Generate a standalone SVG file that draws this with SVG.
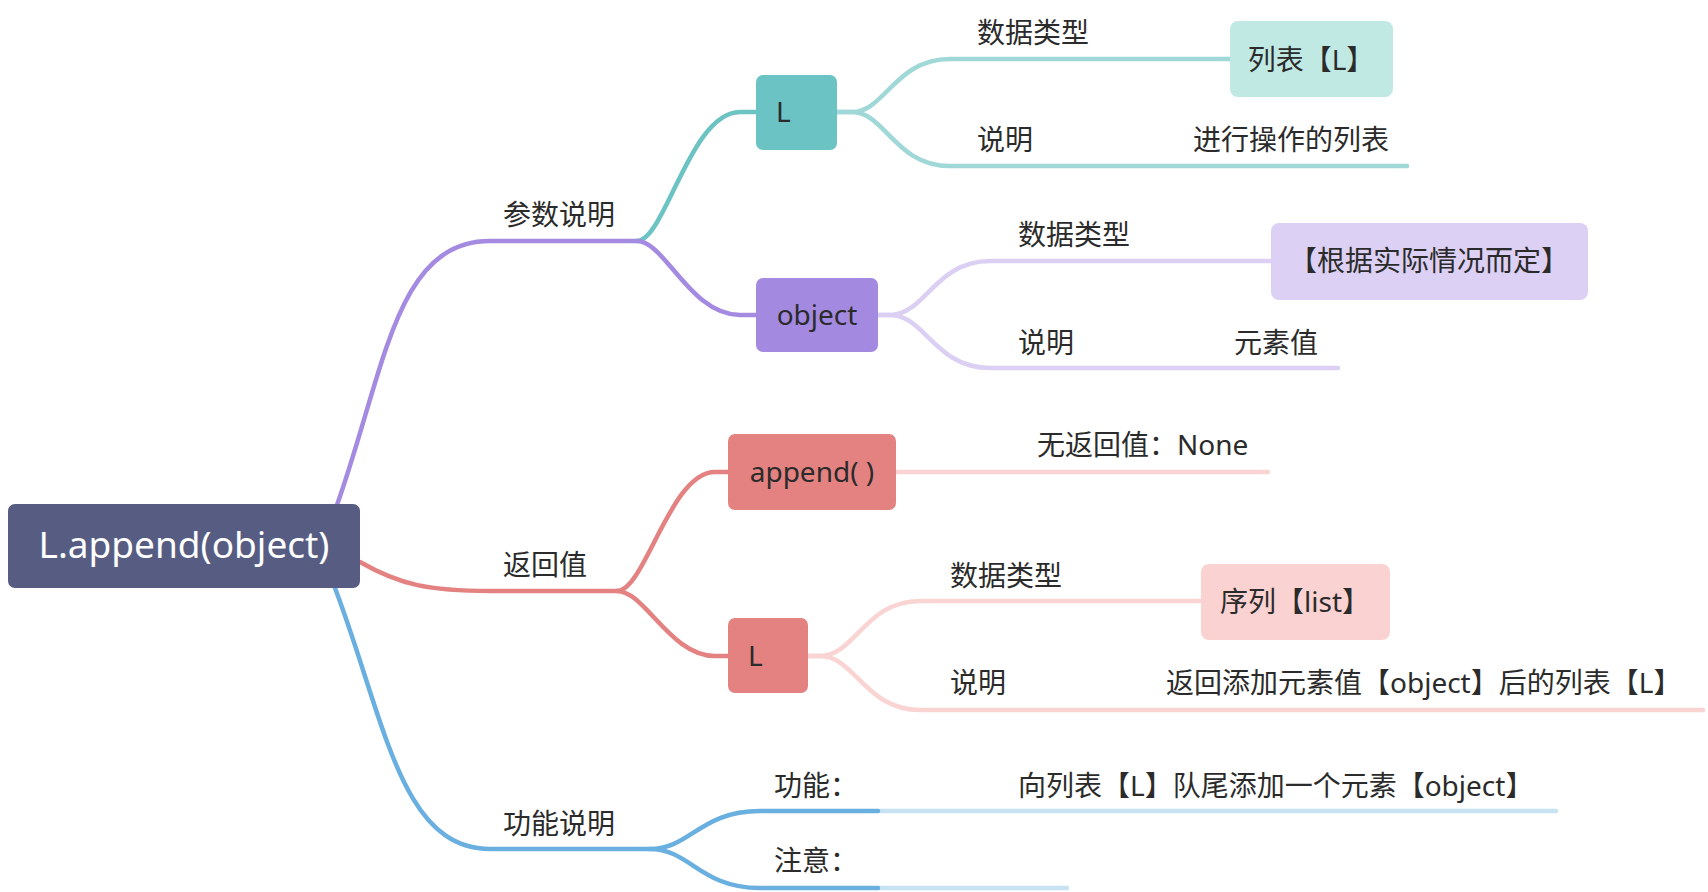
<svg xmlns="http://www.w3.org/2000/svg" width="1708" height="892" viewBox="0 0 1708 892">
<style>
text{font-family:"Noto Sans","Noto Sans CJK SC",sans-serif;font-size:28px;fill:#2b2b2b}
.c{fill:none;stroke-width:4.5;stroke-linecap:round;stroke-linejoin:round}
.mid{text-anchor:middle}
</style>
<rect width="1708" height="892" fill="#ffffff"/>
<g id="connectors">
<path class="c" stroke="#a48ae0" d="M337 505 C385 370 395 241 490 241 H637"/>
<path class="c" stroke="#6cc3c3" d="M637 241 C665 241 690 112 740 112 H757"/>
<path class="c" stroke="#a48ae0" d="M637 241 C665 241 690 315 740 315 H757"/>
<path class="c" stroke="#9fd8d6" d="M837 112 H852 C885 112 895 59 950 59 H1230"/>
<path class="c" stroke="#9fd8d6" d="M837 112 H852 C885 112 895 166 950 166 H1407"/>
<path class="c" stroke="#dccff4" d="M878 315 H890 C925 315 935 261 990 261 H1271"/>
<path class="c" stroke="#dccff4" d="M878 315 H890 C925 315 935 368 990 368 H1338"/>
<path class="c" stroke="#e48282" d="M360 562 C400 585 430 591 490 591 H617"/>
<path class="c" stroke="#e48282" d="M617 591 C645 591 670 472 715 472 H728"/>
<path class="c" stroke="#e48282" d="M617 591 C645 591 670 656 715 656 H728"/>
<path class="c" stroke="#fad3d3" d="M896 472 H1268"/>
<path class="c" stroke="#fad3d3" d="M808 656 H820 C855 656 865 601 920 601 H1201"/>
<path class="c" stroke="#fad3d3" d="M808 656 H820 C855 656 865 710 920 710 H1703"/>
<path class="c" stroke="#69afe0" d="M335 588 C385 720 400 849 490 849 H650"/>
<path class="c" stroke="#c6e2f3" d="M878 811 H1556"/>
<path class="c" stroke="#c6e2f3" d="M878 888 H1067"/>
<path class="c" stroke="#69afe0" d="M650 849 C690 849 700 811 760 811 H878"/>
<path class="c" stroke="#69afe0" d="M650 849 C690 849 700 888 760 888 H878"/>
</g>
<g id="root">
<rect x="8" y="504" width="352" height="84" rx="7" fill="#575d82"/>
<text x="184" y="558" class="mid" style="font-size:37px;fill:#ffffff">L.append(object)</text>
</g>
<g id="n-params"><text x="503" y="225">参数说明</text></g>
<g id="n-return"><text x="503" y="575">返回值</text></g>
<g id="n-func"><text x="503" y="834">功能说明</text></g>
<g id="n-L1">
<rect x="756" y="75" width="81" height="75" rx="7" fill="#6cc3c3"/>
<text x="776" y="122">L</text>
</g>
<g id="n-L1-type"><text x="977" y="43">数据类型</text></g>
<g id="n-L1-type-v">
<rect x="1230" y="21" width="163" height="76" rx="8" fill="#c0e9e4"/>
<text x="1311" y="70" class="mid">列表【L】</text>
</g>
<g id="n-L1-desc"><text x="977" y="150">说明</text></g>
<g id="n-L1-desc-v"><text x="1193" y="150">进行操作的列表</text></g>
<g id="n-obj">
<rect x="756" y="278" width="122" height="74" rx="7" fill="#a389e0"/>
<text x="817" y="325" class="mid">object</text>
</g>
<g id="n-obj-type"><text x="1018" y="245">数据类型</text></g>
<g id="n-obj-type-v">
<rect x="1271" y="223" width="317" height="77" rx="8" fill="#dcd0f4"/>
<text x="1429" y="271" class="mid">【根据实际情况而定】</text>
</g>
<g id="n-obj-desc"><text x="1018" y="353">说明</text></g>
<g id="n-obj-desc-v"><text x="1234" y="353">元素值</text></g>
<g id="n-append">
<rect x="728" y="434" width="168" height="76" rx="7" fill="#e48282"/>
<text x="812" y="482" class="mid">append( )</text>
</g>
<g id="n-append-v"><text x="1037" y="455">无返回值：None</text></g>
<g id="n-L2">
<rect x="728" y="618" width="80" height="75" rx="7" fill="#e48282"/>
<text x="748" y="666">L</text>
</g>
<g id="n-L2-type"><text x="950" y="586">数据类型</text></g>
<g id="n-L2-type-v">
<rect x="1201" y="564" width="189" height="76" rx="8" fill="#f9d2d1"/>
<text x="1295" y="612" class="mid">序列【list】</text>
</g>
<g id="n-L2-desc"><text x="950" y="693">说明</text></g>
<g id="n-L2-desc-v"><text x="1166" y="693">返回添加元素值【object】后的列表【L】</text></g>
<g id="n-func-1"><text x="774" y="796">功能：</text></g>
<g id="n-func-1-v"><text x="1018" y="796">向列表【L】队尾添加一个元素【object】</text></g>
<g id="n-func-2"><text x="774" y="871">注意：</text></g>
</svg>
